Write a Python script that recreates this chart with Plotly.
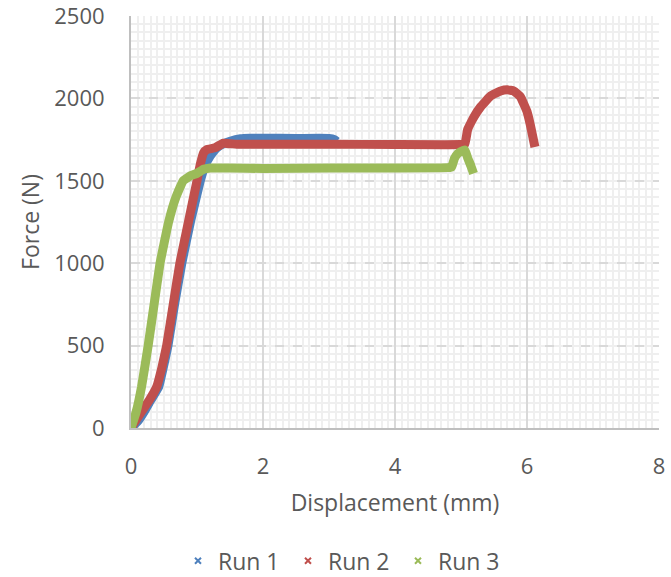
import plotly.graph_objects as go

# Force-displacement curves for three test runs
run1_disp = [0, 0.1, 0.2, 0.3, 0.42, 0.56, 0.66, 0.77, 0.9, 1.05, 1.12, 1.2, 1.3, 1.4,
             1.5, 1.66, 1.8, 2.0, 2.5, 3.0, 3.08, 3.12]
run1_force = [0, 40, 100, 170, 250, 500, 750, 1000, 1250, 1500, 1590, 1650, 1700, 1725,
              1740, 1755, 1758, 1758, 1757, 1757, 1750, 1738]

run2_disp = [0, 0.16, 0.28, 0.39, 0.47, 0.54, 0.64, 0.74, 0.87, 1.0, 1.05, 1.1, 1.15,
             1.27, 1.4, 1.6, 2.0, 3.0, 4.0, 5.0, 5.06, 5.1, 5.2, 5.3, 5.45, 5.6,
             5.7, 5.8, 5.9, 6.0, 6.05, 6.12]
run2_force = [0, 100, 170, 250, 370, 500, 750, 1000, 1250, 1500, 1600, 1670, 1690,
              1700, 1728, 1722, 1722, 1722, 1720, 1720, 1725, 1810, 1890, 1950, 2015, 2045,
              2052, 2045, 2010, 1920, 1840, 1705]

run3_disp = [0, 0.08, 0.16, 0.26, 0.35, 0.44, 0.57, 0.68, 0.79, 0.9, 1.0, 1.1, 1.2,
             1.5, 2.0, 3.0, 4.0, 4.8, 4.86, 4.9, 4.95, 5.0, 5.06, 5.1, 5.15, 5.19]
run3_force = [0, 100, 250, 500, 750, 1000, 1250, 1400, 1500, 1530, 1545, 1570, 1578,
              1577, 1575, 1577, 1578, 1580, 1585, 1635, 1665, 1678, 1687, 1640, 1590, 1545]

series = [
    ("Run 1", run1_disp, run1_force, "#4f81bd"),
    ("Run 2", run2_disp, run2_force, "#c0504d"),
    ("Run 3", run3_disp, run3_force, "#9bbb59"),
]

x_ticks = [0, 2, 4, 6, 8]
y_ticks = [0, 500, 1000, 1500, 2000, 2500]
x_minor = [i / 10 for i in range(81)]
y_minor = [i * 50 for i in range(51)]

FONT = "Open Sans"
TEXT = "#595959"

fig = go.Figure()
for name, xs, ys, color in series:
    # dense measurement points render as a thick band
    fig.add_trace(go.Scatter(x=xs, y=ys, mode="lines", name=name, showlegend=False,
                             line=dict(color=color, width=9, shape="spline", smoothing=0.3)))
for name, xs, ys, color in series:
    # legend entry with cross marker
    fig.add_trace(go.Scatter(x=[None], y=[None], mode="markers", name=name,
                             marker=dict(symbol="x-thin", size=6, color=color,
                                         line=dict(color=color, width=2))))

fig.update_layout(
    width=671, height=577,
    margin=dict(l=131, r=12, t=16, b=149, autoexpand=False),
    paper_bgcolor="white", plot_bgcolor="white",
    font=dict(family=FONT, size=22, color=TEXT),
    legend=dict(orientation="h", x=0.089, xanchor="left",
                yref="container", y=0.028, yanchor="middle",
                font=dict(size=23, color=TEXT), entrywidth=65, itemwidth=30),
    xaxis=dict(
        range=[0, 8], tickmode="array", tickvals=x_ticks,
        showline=True, linecolor="#bfbfbf", linewidth=2,
        showgrid=True, gridcolor="#d9d9d9", gridwidth=1.5, zeroline=False,
        ticks="", ticklabelstandoff=18, ticklabeloverflow="allow",
        automargin=False, tickfont=dict(size=22),
        minor=dict(tickmode="array", tickvals=x_minor, showgrid=True,
                   gridcolor="#efefef", gridwidth=2, griddash="solid"),
        title=dict(text="Displacement (mm)", standoff=15, font=dict(size=23, color=TEXT)),
    ),
    yaxis=dict(
        range=[0, 2500], tickmode="array", tickvals=y_ticks,
        showline=True, linecolor="#bfbfbf", linewidth=2,
        showgrid=True, gridcolor="#d9d9d9", gridwidth=1.5, griddash="dash", zeroline=False,
        ticks="", ticklabelstandoff=20, ticklabeloverflow="allow",
        automargin=False, tickfont=dict(size=22),
        minor=dict(tickmode="array", tickvals=y_minor, showgrid=True,
                   gridcolor="#efefef", gridwidth=2, griddash="solid"),
        title=dict(text="Force (N)", standoff=8, font=dict(size=23, color=TEXT)),
    ),
)

fig.write_html("out.html")
